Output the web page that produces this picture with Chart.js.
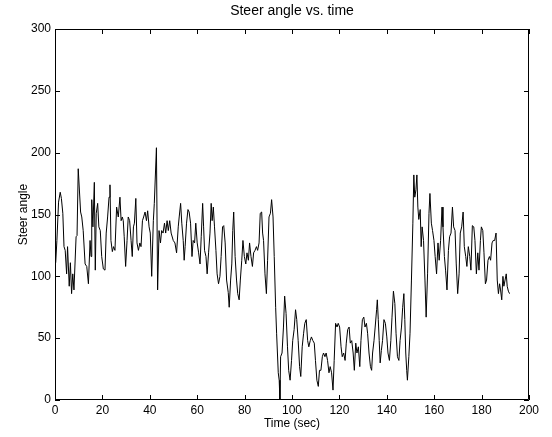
<!DOCTYPE html>
<html>
<head>
<meta charset="utf-8">
<script src="https://cdn.jsdelivr.net/npm/chart.js@4.4.1/dist/chart.umd.min.js"></script>
<style>
html, body { margin: 0; padding: 0; background: #fff; }
</style>
</head>
<body>
<canvas id="steerChart" width="552" height="437"></canvas>
<script>
const timeSec = [
    0.3, 0.8, 1.5, 2.2, 2.7, 3.3, 3.8, 4.3, 4.9, 5.3,
    6.0, 6.5, 7.0, 7.5, 8.0, 8.9, 9.3, 9.8, 10.8, 11.3,
    11.9, 12.7, 13.4, 14.1, 14.8, 15.2, 15.5, 16.0, 16.6, 17.0,
    17.4, 18.0, 18.5, 19.1, 19.7, 20.4, 21.1, 21.6, 22.2, 22.8,
    23.2, 23.6, 24.2, 24.7, 25.3, 26.0, 26.7, 27.4, 27.9, 28.4,
    28.8, 29.2, 29.8, 30.4, 30.9, 31.5, 32.1, 32.6, 33.1, 33.5,
    34.1, 34.6, 35.2, 35.8, 36.3, 36.9, 37.4, 38.0, 38.6, 39.1,
    39.7, 40.2, 40.8, 41.5, 41.9, 42.8, 43.3, 43.9, 44.5, 45.0,
    45.6, 46.2, 46.7, 47.3, 47.8, 48.4, 49.0, 49.9, 50.6, 51.3,
    52.0, 52.4, 53.0, 53.5, 54.1, 54.5, 54.9, 55.5, 56.1, 56.6,
    57.2, 57.8, 58.3, 58.9, 59.4, 60.0, 60.6, 61.2, 61.7, 62.3,
    62.7, 63.1, 63.7, 64.2, 64.8, 65.4, 65.9, 66.3, 66.8, 67.3,
    67.9, 68.4, 69.0, 69.6, 70.1, 70.7, 71.2, 71.8, 72.4, 73.1,
    73.5, 74.1, 74.6, 75.0, 75.4, 76.0, 76.6, 77.1, 77.7, 78.2,
    78.8, 79.3, 79.9, 80.5, 81.0, 81.6, 82.1, 82.7, 83.3, 83.8,
    84.4, 85.0, 85.5, 86.1, 86.6, 87.2, 87.6, 88.0, 88.6, 89.2,
    89.7, 90.3, 90.9, 91.4, 92.0, 92.5, 93.1, 93.5, 94.2, 94.6,
    94.9, 95.2, 95.8, 96.4, 96.9, 97.5, 98.1, 98.6, 99.2, 99.8,
    100.3, 100.9, 101.5, 102.0, 102.6, 103.2, 103.7, 104.3, 104.9, 105.4,
    106.0, 106.6, 107.1, 107.7, 108.2, 108.8, 109.4, 109.9, 110.5, 111.1,
    111.6, 112.2, 112.8, 113.3, 113.9, 114.4, 115.0, 115.6, 116.1, 116.7,
    117.3, 117.8, 118.4, 119.0, 119.5, 120.1, 120.7, 121.2, 121.8, 122.4,
    122.9, 123.5, 124.1, 124.6, 125.2, 125.8, 126.3, 126.9, 127.4, 128.0,
    128.6, 129.1, 129.7, 130.3, 130.8, 131.4, 131.9, 132.5, 133.1, 133.6,
    134.0, 134.6, 135.1, 135.7, 136.0, 136.4, 136.8, 137.2, 137.7, 138.2,
    138.8, 139.4, 140.0, 140.5, 141.1, 141.7, 142.2, 142.8, 143.4, 143.9,
    144.5, 145.1, 145.6, 146.2, 146.7, 147.2, 147.6, 148.0, 148.4, 148.7,
    149.3, 149.8, 150.4, 151.0, 151.4, 151.8, 152.3, 152.7, 153.1, 153.5,
    154.1, 154.5, 154.9, 155.5, 156.1, 156.6, 157.2, 157.8, 158.2, 158.8,
    159.3, 159.9, 160.4, 161.0, 161.6, 162.1, 162.7, 163.3, 163.7, 164.3,
    164.8, 165.4, 166.0, 166.5, 167.1, 167.7, 168.2, 168.8, 169.3, 169.9,
    170.5, 171.0, 171.6, 172.2, 172.7, 173.3, 173.8, 174.4, 175.0, 175.5,
    176.1, 176.7, 177.2, 177.8, 178.4, 178.9, 179.5, 179.9, 180.5, 181.0,
    181.6, 182.1, 182.7, 183.3, 183.8, 184.4, 184.9, 185.5, 186.1, 186.6,
    187.1, 187.6, 188.0, 188.5, 189.0, 189.4, 189.9, 190.4, 190.8, 191.3,
    191.8
];

const steerAngle = [
    111, 129, 160, 168, 163, 151, 124, 121, 102, 124,
    92, 111, 86, 102, 89, 132, 133, 187, 152, 148,
    137, 110, 108, 94, 129, 116, 162, 140, 176, 105,
    151, 159, 140, 137, 116, 106, 105, 135, 148, 164,
    174, 129, 120, 124, 121, 156, 148, 164, 145, 148,
    145, 132, 108, 129, 148, 145, 129, 116, 140, 143,
    163, 127, 121, 127, 124, 145, 148, 152, 145, 153,
    140, 135, 100, 145, 159, 204, 89, 137, 127, 137,
    135, 143, 135, 145, 137, 145, 135, 129, 127, 119,
    140, 148, 159, 143, 129, 113, 124, 143, 154, 152,
    143, 116, 129, 127, 143, 127, 119, 110, 132, 159,
    140, 121, 116, 102, 119, 135, 159, 145, 156, 140,
    121, 102, 94, 100, 116, 140, 141, 127, 97, 87,
    75, 97, 110, 137, 152, 116, 97, 86, 81, 97,
    113, 129, 116, 110, 119, 113, 127, 116, 108, 119,
    121, 124, 121, 127, 151, 152, 135, 129, 102, 86,
    113, 148, 151, 162, 148, 116, 75, 54, 22, 16,
    0, 35, 38, 59, 84, 70, 43, 24, 16, 32,
    48, 57, 73, 65, 48, 27, 19, 43, 54, 62,
    65, 48, 43, 48, 51, 48, 46, 32, 16, 11,
    24, 24, 35, 38, 35, 38, 32, 22, 27, 22,
    8, 32, 62, 59, 62, 59, 43, 35, 38, 32,
    46, 57, 59, 46, 48, 38, 24, 46, 38, 43,
    27, 48, 65, 67, 59, 62, 54, 38, 27, 24,
    38, 48, 59, 73, 81, 65, 48, 30, 40, 48,
    65, 62, 51, 38, 32, 48, 67, 88, 78, 54,
    35, 32, 48, 59, 75, 86, 65, 38, 24, 16,
    35, 54, 97, 143, 182, 164, 170, 182, 156, 146,
    154, 124, 140, 129, 97, 67, 102, 151, 167, 143,
    137, 129, 116, 102, 127, 113, 129, 156, 140, 116,
    105, 89, 121, 132, 135, 156, 140, 137, 110, 86,
    102, 135, 140, 152, 124, 116, 108, 124, 116, 105,
    141, 140, 129, 102, 119, 105, 129, 140, 137, 119,
    94, 97, 113, 116, 113, 127, 129, 129, 135, 97,
    86, 94, 89, 81, 100, 92, 97, 102, 92, 88,
    86
];

const xTicks = [0, 20, 40, 60, 80, 100, 120, 140, 160, 180, 200];
const yTicks = [0, 50, 100, 150, 200, 250, 300];

const fontFamily = "'Liberation Sans', Arial, Helvetica, sans-serif";
const tickLen = 5;

// matlab style box with inward ticks on all four sides
const boxTicks = {
    id: "boxTicks",
    afterDatasetsDraw(chart) {
        const { ctx, chartArea, scales } = chart;
        const { left, right, top, bottom } = chartArea;
        ctx.save();
        ctx.strokeStyle = "#000";
        ctx.lineWidth = 1;
        ctx.beginPath();
        ctx.rect(left + 0.5, top + 0.5, right - left - 1, bottom - top - 1);
        xTicks.forEach(v => {
            const px = Math.round(scales.x.getPixelForValue(v)) + 0.5;
            ctx.moveTo(px, bottom);
            ctx.lineTo(px, bottom - tickLen);
            ctx.moveTo(px, top);
            ctx.lineTo(px, top + tickLen);
        });
        yTicks.forEach(v => {
            const py = Math.round(scales.y.getPixelForValue(v)) + 0.5;
            ctx.moveTo(left, py);
            ctx.lineTo(left + tickLen, py);
            ctx.moveTo(right, py);
            ctx.lineTo(right - tickLen, py);
        });
        ctx.stroke();
        ctx.restore();
    }
};

const ctx = document.getElementById("steerChart").getContext("2d");
new Chart(ctx, {
    type: "line",
    data: {
        datasets: [{
            label: "Steer angle",
            data: timeSec.map((t, i) => ({ x: t, y: steerAngle[i] })),
            borderColor: "#000",
            borderWidth: 1,
            pointRadius: 0,
            tension: 0,
            fill: false
        }]
    },
    options: {
        responsive: false,
        animation: false,
        layout: { padding: { left: 0, right: 23, top: 0, bottom: 0 } },
        scales: {
            x: {
                type: "linear",
                min: 0,
                max: 200,
                afterBuildTicks: s => { s.ticks = xTicks.map(v => ({ value: v })); },
                afterFit: s => { s.height = 37; },
                grid: { display: false, drawTicks: false },
                border: { display: false },
                ticks: { color: "#000", padding: 3, maxRotation: 0, font: { family: fontFamily, size: 12 } },
                title: { display: true, text: "Time (sec)", color: "#000", padding: { top: 0, bottom: 6 }, font: { family: fontFamily, size: 12 } }
            },
            top: {
                type: "linear",
                axis: "x",
                position: "top",
                min: 0,
                max: 200,
                afterFit: s => { s.height = 29; },
                grid: { display: false, drawTicks: false },
                border: { display: false },
                ticks: { display: false },
                title: { display: true, text: "Steer angle vs. time", color: "#000", padding: { top: 3, bottom: 0 }, font: { family: fontFamily, size: 14 } }
            },
            y: {
                min: 0,
                max: 300,
                afterBuildTicks: s => { s.ticks = yTicks.map(v => ({ value: v })); },
                afterFit: s => { s.width = 55; },
                grid: { display: false, drawTicks: false },
                border: { display: false },
                ticks: { color: "#000", padding: 4, font: { family: fontFamily, size: 12 } },
                title: { display: true, text: "Steer angle", color: "#000", padding: { top: 16, bottom: 0 }, font: { family: fontFamily, size: 12 } }
            }
        },
        plugins: {
            legend: { display: false },
            tooltip: { enabled: false },
            title: { display: false }
        }
    },
    plugins: [boxTicks]
});
</script>
</body>
</html>
